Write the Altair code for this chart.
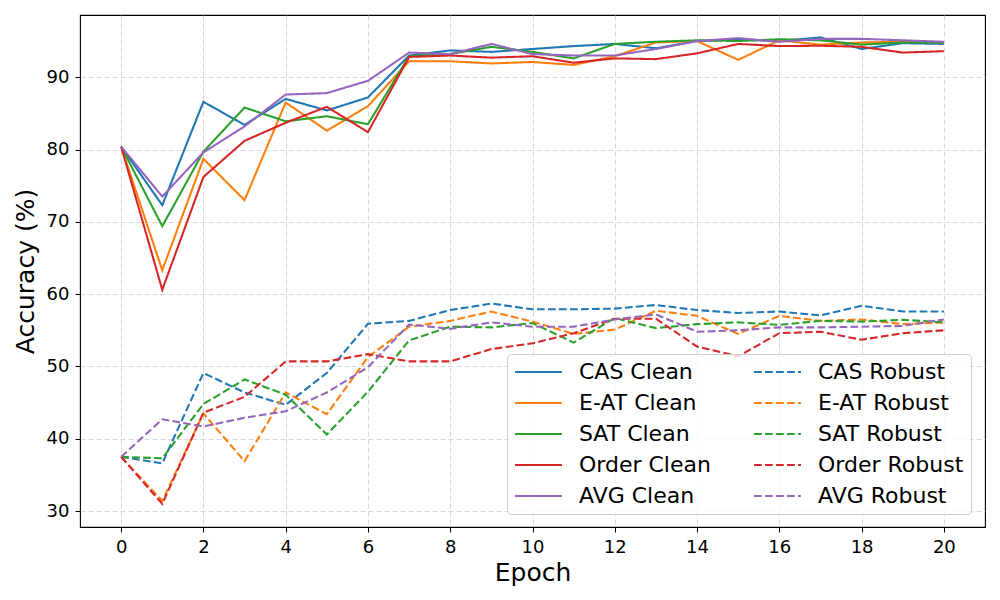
import altair as alt
import pandas as pd

epochs = list(range(21))

cas_clean = [80.4, 72.3, 86.6, 83.4, 87.0, 85.4, 87.2, 93.0, 93.7, 93.5, 93.9, 94.3, 94.6, 94.0, 95.0, 95.2, 95.0, 95.5, 93.9, 94.7, 94.6]
eat_clean = [80.4, 63.3, 78.7, 73.0, 86.5, 82.6, 86.0, 92.2, 92.2, 91.9, 92.1, 91.7, 92.9, 94.8, 95.0, 92.4, 95.1, 94.5, 94.8, 94.9, 94.8]
sat_clean = [80.4, 69.4, 79.7, 85.8, 83.9, 84.6, 83.5, 92.9, 93.2, 94.2, 93.5, 92.6, 94.6, 94.9, 95.1, 95.0, 95.25, 95.1, 94.5, 94.8, 94.8]
order_clean = [80.4, 60.6, 76.2, 81.2, 83.7, 85.9, 82.4, 92.8, 93.0, 92.7, 92.9, 92.0, 92.6, 92.5, 93.3, 94.6, 94.3, 94.35, 94.2, 93.4, 93.6]
avg_clean = [80.4, 73.5, 79.6, 83.2, 87.6, 87.8, 89.5, 93.4, 93.2, 94.6, 93.2, 93.0, 93.0, 93.9, 95.0, 95.4, 94.9, 95.3, 95.3, 95.1, 94.9]

cas_robust = [37.5, 36.6, 49.1, 46.4, 44.7, 49.1, 55.9, 56.3, 57.8, 58.7, 57.9, 57.9, 58.0, 58.5, 57.8, 57.4, 57.6, 57.05, 58.4, 57.6, 57.6]
eat_robust = [37.5, 31.4, 43.5, 36.9, 46.4, 43.4, 51.3, 55.5, 56.3, 57.6, 56.2, 54.5, 55.1, 57.7, 57.0, 54.5, 57.0, 56.3, 56.5, 55.85, 56.1]
sat_robust = [37.5, 37.3, 44.8, 48.2, 46.1, 40.6, 46.5, 53.6, 55.5, 55.4, 56.0, 53.3, 56.7, 55.3, 55.85, 56.1, 55.75, 56.3, 56.2, 56.45, 56.1]
order_robust = [37.5, 31.0, 43.6, 45.8, 50.7, 50.7, 51.7, 50.7, 50.7, 52.4, 53.2, 54.6, 56.6, 56.6, 52.75, 51.4, 54.6, 54.8, 53.7, 54.6, 55.0]
avg_robust = [37.5, 42.7, 41.7, 42.9, 43.8, 46.4, 49.9, 55.8, 55.2, 56.1, 55.5, 55.5, 56.5, 57.2, 54.8, 55.0, 55.4, 55.4, 55.5, 55.6, 56.5]

methods = ["CAS", "E-AT", "SAT", "Order", "AVG"]
colors = ["#1f77b4", "#ff7f0e", "#2ca02c", "#d62728", "#9467bd"]
clean_series = [cas_clean, eat_clean, sat_clean, order_clean, avg_clean]
robust_series = [cas_robust, eat_robust, sat_robust, order_robust, avg_robust]

rows = []
domain = []
color_range = []
dash_range = []
for kind, series_list, dash in (("Clean", clean_series, [1, 0]), ("Robust", robust_series, [7.7, 3.3])):
    for m, c, vals in zip(methods, colors, series_list):
        name = f"{m} {kind}"
        domain.append(name)
        color_range.append(c)
        dash_range.append(dash)
        for e, v in zip(epochs, vals):
            rows.append({"series": name, "epoch": e, "acc": v})

df = pd.DataFrame(rows)

legend = alt.Legend(
    title=None,
    orient="none",
    legendX=427,
    legendY=339,
    columns=2,
    clipHeight=22,
    rowPadding=9,
    columnPadding=42,
    symbolType="stroke",
    symbolSize=2200,
    symbolStrokeWidth=2,
    labelFontSize=22,
    labelFont="DejaVu Sans",
    labelColor="black",
    labelOffset=16,
    labelLimit=400,
    padding=7,
    strokeColor="#cccccc",
    fillColor="rgba(255,255,255,0.8)",
    cornerRadius=4,
)

chart = (
    alt.Chart(df)
    .mark_line(strokeWidth=2.08)
    .encode(
        x=alt.X(
            "epoch:Q",
            scale=alt.Scale(domain=[-1, 21], nice=False, zero=False),
            axis=alt.Axis(values=list(range(0, 21, 2)), title="Epoch", titlePadding=4),
        ),
        y=alt.Y(
            "acc:Q",
            scale=alt.Scale(domain=[27.8, 98.6], nice=False, zero=False),
            axis=alt.Axis(values=[30, 40, 50, 60, 70, 80, 90], title="Accuracy (%)", titlePadding=8),
        ),
        color=alt.Color("series:N", scale=alt.Scale(domain=domain, range=color_range), legend=legend),
        strokeDash=alt.StrokeDash("series:N", scale=alt.Scale(domain=domain, range=dash_range), legend=legend),
        detail="series:N",
        order="epoch:Q",
    )
    .properties(
        width=905,
        height=512,
        autosize="none",
        padding={"left": 72, "top": 7, "right": 7, "bottom": 65},
        background="white",
    )
    .configure_view(stroke="black", strokeWidth=1.1)
    .configure_axis(
        domain=False,
        grid=True,
        gridColor="#cccccc",
        gridDash=[5, 3],
        gridWidth=0.8,
        ticks=True,
        tickColor="black",
        tickSize=5,
        tickWidth=1,
        labelFont="DejaVu Sans",
        labelFontSize=18,
        labelColor="black",
        labelPadding=6,
        titleFont="DejaVu Sans",
        titleFontSize=25,
        titleFontWeight="normal",
        titleColor="black",
    )
)

chart.save("out.html", embed_options={"renderer": "svg", "actions": False})
